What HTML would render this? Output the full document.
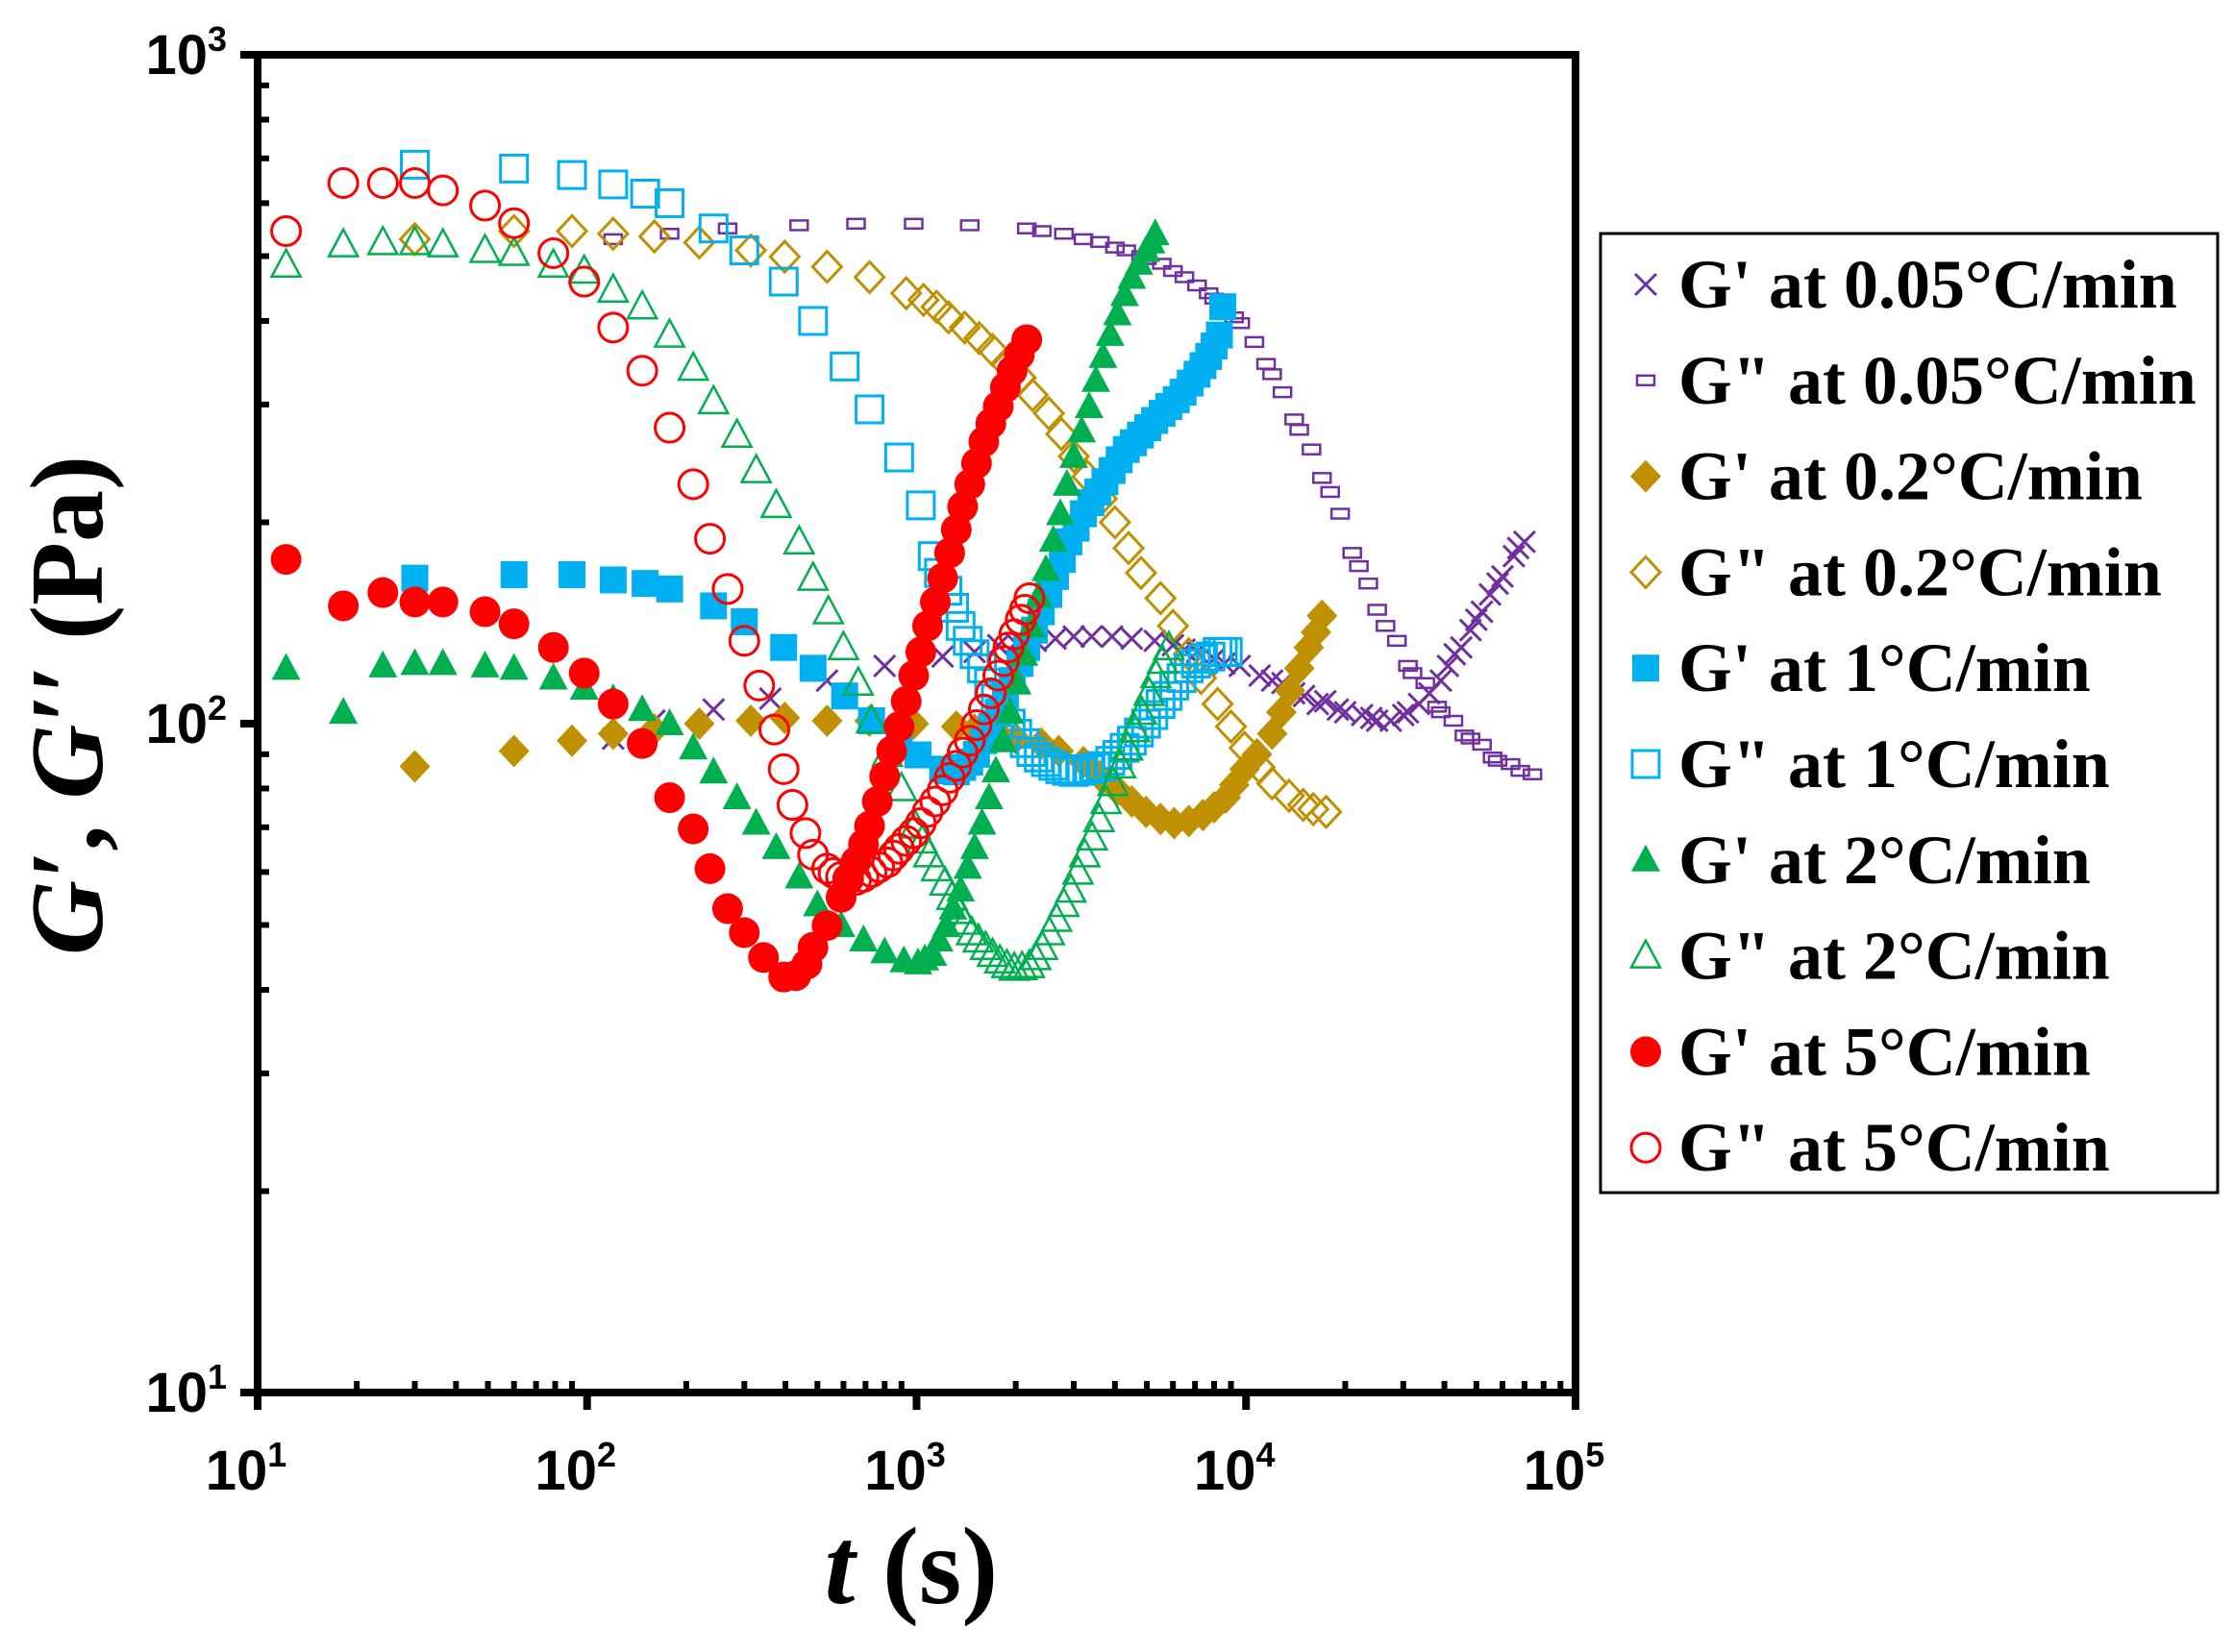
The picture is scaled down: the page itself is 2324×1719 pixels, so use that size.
<!DOCTYPE html>
<html><head><meta charset="utf-8"><style>
html,body{margin:0;padding:0;background:#fff;}
svg{display:block;}
</style></head>
<body>
<svg id="chart" xmlns="http://www.w3.org/2000/svg" width="2324" height="1719" viewBox="0 0 2324 1719">
<rect x="0" y="0" width="2324" height="1719" fill="#fff"/>
<g id="marks"></g>
<g id="axes"></g>
<text x="948" y="1668" text-anchor="middle" font-family="Liberation Serif, serif" font-weight="bold" font-size="114"><tspan font-style="italic">t</tspan> (s)</text>
<text transform="translate(106,734) rotate(-90)" text-anchor="middle" font-family="Liberation Serif, serif" font-weight="bold" font-size="108"><tspan font-style="italic">G′</tspan>, <tspan font-style="italic">G′′</tspan> (Pa)</text>
<g id="legend"></g>
</svg>
<script>
const xTicks = [1,2,3,4,5];
const yTicks = [1,2,3];
const tickLabelsX = ["10","10","10","10","10"];
const tickLabelsY = ["10","10","10"];

const g05p_t = [120,160,242,360,535,800,1200,1770,2640,3920,5280,7100,9570,12900,17400,22500,27500,33500,39000,45000,52000,60000,70000,
 1000,1500,2000,2300,3000,3400,4500,6000,6500,8000,8600,11000,12000,14000,15000,16500,19000,20000,24000,25000,30000,31000,36000,41000,43000,48000,50000,55000,58000,65000,67000];
const g05p_v = [95,101,105,109,116,122,126,131,134,135,133,128,122,115,108,103,101,107,116,130,147,166,187,
 124,128,132,133,135,135,134,131,129,125,123,118,116,111,110,107,105,104,102,101,103,104,111,122,127,138,143,156,162,178,183];
const g05pp_t = [120,178,267,440,655,980,1450,2160,3210,4330,5550,7100,8670,10600,12900,15800,19300,23500,28700,35000,42600,52000,63500,74000,
 2400,2800,3600,4000,4800,5000,6000,6500,7700,8000,9200,9600,11500,12000,14000,14500,17000,18000,21000,22000,25000,26500,31000,32000,38000,39000,46000,48000,56000,58000,68000];
const g05pp_v = [530,540,550,556,559,559,556,550,530,510,487,452,420,372,313,257,206,162,133,115,101,93,87,84,
 545,540,525,515,500,495,475,465,440,432,405,397,345,333,285,275,233,222,180,172,148,140,122,119,106,104,96,95,89,88,85];
const g02p_t = [30,60,90,120,160,219,314,398,535,720,980,1320,1770,2390,3210,4070,4970,6050,7400,8670,9900,12000,13600,15500,17000,
 1500,2000,2700,3600,4500,5500,6700,8000,9200,10800,12800,14500,16300];
const g02p_v = [86.3,91,94.3,96.6,98,100,101,102,101,101,100,99,96.6,93.4,87.6,79.5,73.8,71,73,77.5,85.5,96.6,112,130,145,
 98,95,91,83.5,76.5,72,71.5,75,81,90,104,121,137];
const g02pp_t = [30,60,90,120,160,219,314,398,535,720,930,1150,1400,1700,2070,2520,3000,3650,4400,5500,6700,8200,9900,12000,14900,17500,
 1050,1250,1550,1870,2250,2750,3300,4000,4800,6000,7300,9000,11000,13500,16000];
const g02pp_v = [530,545,545,540,535,524,510,499,482,465,440,420,391,362,329,291,251,217,183,154,127,107,92,81.4,75.6,73.8,
 430,405,377,345,310,271,234,200,168,140,117,99,86,78,74.5];
const g1p_t = [30,60,90,120,150,178,242,300,395,485,605,730,885,1010,1200,1320,1450,1600,1770,1950,2160,2390,2640,2900,3210,3550,3920,4330,4780,5280,5830,6440,7100,7700,8300,8500,
 1260,1380,1520,1690,1860,2060,2280,2520,2770,3050,3380,3730,4120,4550,5030,5560,6140,6770,7400,8000];
const g1p_v = [165,167,167,164,162,159,150,142,130,121,110,101,94.3,89.8,85.5,84.7,87.6,94.3,104,116,130,147,166,187,206,222,239,257,270,284,298,313,333,354,381,420,
 85,86,90,99,110,123,138,156,176,196,214,230,248,263,277,291,305,323,343,367];
const g1pp_t = [30,60,90,120,150,178,242,300,395,485,605,720,885,1030,1120,1240,1360,1500,1660,1830,2020,2230,2470,2730,3000,3340,3680,4070,4500,4970,5500,6050,6700,7400,8200,8800,
 1170,1300,1430,1580,1740,1930,2130,2350,2600,2860,3170,3500,3870,4280,4730,5230,5780,6370,7050,7800,8500];
const g1pp_v = [685,676,661,640,620,600,550,510,458,400,342,295,250,212,178,158,140,127,115,104,96.6,90.7,87.6,85.5,84.7,85.5,86.4,89.8,94.3,100,107,114,121,125,128,128,
 168,149,133,121,109,100,93.5,89,86.5,85,85,86,88,92,97,103,110,117,123,126,128];
const g2p_t = [12.2,18.2,24,30,36.5,49,60,79,98,120,147,178,210,242,285,326,375,440,500,590,690,800,915,1010,1120,1230,1360,1500,1660,1830,2020,2230,2470,2730,3000,3340,3680,4070,4500,4970,5300,
 1060,1170,1290,1430,1580,1740,1920,2120,2350,2600,2860,3170,3500,3870,4280,4730,5150];
const g2p_v = [121,104,122,123,123,122,121,117,113,109,105,100,92,84.7,77.5,71,65.3,59,53.6,49.9,47.5,45.6,44.2,43.9,45.2,49.9,56.4,65.3,77.5,94.3,115,140,170,206,251,298,354,410,465,510,540,
 44.5,47.5,53,61,71,85,104,127,155,188,228,274,326,382,438,488,525];
const g2pp_t = [12.2,18.2,24,30,36.5,49,60,79,98,120,147,178,210,242,285,326,375,440,485,540,600,665,730,815,900,990,1090,1220,1340,1470,1620,1790,1980,2200,2410,2660,2940,3240,3580,3950,4370,4820,5330,5830,
 1040,1150,1280,1400,1540,1700,1880,2090,2300,2530,2800,3090,3410,3760,4160,4590,5080,5580];
const g2pp_v = [485,520,524,524,520,510,505,485,475,445,420,381,340,303,270,239,212,187,165,147,130,115,101,90,80,70.3,63.7,57.8,52.4,48.7,46.3,44.2,43.1,43.5,46.3,51,56.4,63.7,71.9,81.4,92,104,118,130,
 66.8,60.7,55,50.5,47.5,45.2,43.5,43.2,44.7,48.7,53.7,60,67.5,76.5,86.5,98,111,124];
const g5p_t = [12.2,18.2,24,30,36.5,49,60,79,98,120,147,178,210,236,267,300,343,395,430,465,485,535,590,655,720,800,885,980,1080,1200,1320,1450,1600,1770,1950,2160,
 620,690,760,840,930,1030,1140,1260,1380,1520,1680,1860,2050];
const g5p_v = [176,150,157,152,152,147,141,130,119,107,93.4,77.5,69.6,60.7,52.9,48.7,44.7,41.8,42,43.7,46.3,49.9,55,62.2,70.3,83.4,99,118,140,165,195,228,264,298,337,375,
 58.5,66,76.5,91,108,128,152,180,211,245,281,318,356];
const g5pp_t = [12.2,18.2,24,30,36.5,49,60,79,98,120,147,178,210,236,267,300,333,370,395,420,460,485,535,590,655,730,815,885,980,1080,1200,1320,1450,1600,1770,1900,2070,2200,
 560,620,690,770,850,930,1030,1140,1260,1380,1520,1680,1840,1980,2130];
const g5pp_v = [545,643,643,643,627,595,560,505,458,391,337,277,228,189,159,133,114,98,85.5,75.6,68.6,63.7,60.7,59,58.4,60,62,65,68.6,73.8,79.5,86.5,94.3,105,118,130,143,154,
 59.8,58.6,59,61,63.5,66.8,71,76.5,83,90.5,99.5,111,124,136,148];

const legendLabels = ["G' at 0.05°C/min","G\" at 0.05°C/min","G' at 0.2°C/min","G\" at 0.2°C/min","G' at 1°C/min","G\" at 1°C/min","G' at 2°C/min","G\" at 2°C/min","G' at 5°C/min","G\" at 5°C/min"];

const L=268,R=1639,T=57,B=1449;
function xs(t){return L+(Math.log10(t)-1)/4*(R-L);}
function ys(v){return B-(Math.log10(v)-1)/2*(B-T);}
const NS="http://www.w3.org/2000/svg";
function el(tag,attrs,parent){const e=document.createElementNS(NS,tag);for(const k in attrs)e.setAttribute(k,attrs[k]);parent.appendChild(e);return e;}

const C={purple:"#7030a0",gold:"#bf9000",blue:"#00b0f0",green:"#00b050",red:"#ff0000"};
function marker(kind,x,y,parent){
  let e;
  if(kind==="x"){e=el("path",{d:`M${x-11} ${y-11}L${x+11} ${y+11}M${x-11} ${y+11}L${x+11} ${y-11}`,stroke:C.purple,"stroke-width":3,fill:"none"},parent);}
  else if(kind==="dash"){e=el("rect",{x:x-9,y:y-5,width:18,height:10,fill:"none",stroke:C.purple,"stroke-width":2.5},parent);}
  else if(kind==="dfill"){e=el("path",{d:`M${x} ${y-17}L${x+16} ${y}L${x} ${y+17}L${x-16} ${y}Z`,fill:C.gold},parent);}
  else if(kind==="dopen"){e=el("path",{d:`M${x} ${y-16}L${x+15} ${y}L${x} ${y+16}L${x-15} ${y}Z`,fill:"none",stroke:C.gold,"stroke-width":3},parent);}
  else if(kind==="sfill"){e=el("rect",{x:x-14,y:y-14,width:28,height:28,fill:C.blue},parent);}
  else if(kind==="sopen"){e=el("rect",{x:x-14,y:y-14,width:28,height:28,fill:"none",stroke:C.blue,"stroke-width":3},parent);}
  else if(kind==="tfill"){e=el("path",{d:`M${x} ${y-16}L${x+15} ${y+12}L${x-15} ${y+12}Z`,fill:C.green},parent);}
  else if(kind==="topen"){e=el("path",{d:`M${x} ${y-16}L${x+15} ${y+12}L${x-15} ${y+12}Z`,fill:"none",stroke:C.green,"stroke-width":2.5},parent);}
  else if(kind==="cfill"){e=el("circle",{cx:x,cy:y,r:16,fill:C.red},parent);}
  else if(kind==="copen"){e=el("circle",{cx:x,cy:y,r:15,fill:"none",stroke:C.red,"stroke-width":3},parent);}
  return e;
}
const series=[
 ["g-prime-0-05",g05p_t,g05p_v,"x"],
 ["g-double-prime-0-05",g05pp_t,g05pp_v,"dash"],
 ["g-prime-0-2",g02p_t,g02p_v,"dfill"],
 ["g-double-prime-0-2",g02pp_t,g02pp_v,"dopen"],
 ["g-prime-1",g1p_t,g1p_v,"sfill"],
 ["g-double-prime-1",g1pp_t,g1pp_v,"sopen"],
 ["g-prime-2",g2p_t,g2p_v,"tfill"],
 ["g-double-prime-2",g2pp_t,g2pp_v,"topen"],
 ["g-prime-5",g5p_t,g5p_v,"cfill"],
 ["g-double-prime-5",g5pp_t,g5pp_v,"copen"]
];
const marks=document.getElementById("marks");
series.forEach(s=>{
  const g=el("g",{},marks);
  
  
  for(let i=0;i<s[1].length;i++){
    const m=marker(s[3],xs(s[1][i]),ys(s[2][i]),g);
    
    
  }
});

const axes=document.getElementById("axes");
const frame=el("rect",{x:L,y:T,width:R-L,height:B-T,fill:"none",stroke:"#000","stroke-width":8},axes);


xTicks.forEach((p,i)=>{
  const x=xs(Math.pow(10,p));
  const tk=el("line",{x1:x,y1:B,x2:x,y2:B+18,stroke:"#000","stroke-width":8},axes);
  
  
  const t=el("text",{x:x-12,y:1550,"text-anchor":"middle","font-family":"Liberation Sans, sans-serif","font-weight":"bold","font-size":58},axes);
  t.textContent=tickLabelsX[i];
  const sp=el("tspan",{dy:-24,"font-size":36},t);sp.textContent=String(p);
  
  
  if(p<5){for(let k=2;k<10;k++){const xm=xs(k*Math.pow(10,p));
    const mt=el("line",{x1:xm,y1:B,x2:xm,y2:B-12,stroke:"#000","stroke-width":6},axes);
    
    }}
});
yTicks.forEach((p,i)=>{
  const y=ys(Math.pow(10,p));
  const tk=el("line",{x1:L-18,y1:y,x2:L,y2:y,stroke:"#000","stroke-width":8},axes);
  
  
  const t=el("text",{x:236,y:y+20,"text-anchor":"end","font-family":"Liberation Sans, sans-serif","font-weight":"bold","font-size":58},axes);
  t.textContent=tickLabelsY[i];
  const sp=el("tspan",{dy:-24,"font-size":36},t);sp.textContent=String(p);
  
  
  if(p<3){for(let k=2;k<10;k++){const ym=ys(k*Math.pow(10,p));
    const mt=el("line",{x1:L,y1:ym,x2:L+12,y2:ym,stroke:"#000","stroke-width":6},axes);
    
    }}
});

const leg=document.getElementById("legend");
const box=el("rect",{x:1665,y:243,width:642,height:998,fill:"#fff",stroke:"#000","stroke-width":3},leg);


legendLabels.forEach((lab,i)=>{
  const y=296+i*99.8;
  const g=el("g",{},leg);
  
  
  marker(series[i][3],1712,y,g);
  const t=el("text",{x:1746,y:y+24,"font-family":"Liberation Serif, serif","font-weight":"bold","font-size":72},g);
  t.textContent=lab;
});
</script>
</body></html>
